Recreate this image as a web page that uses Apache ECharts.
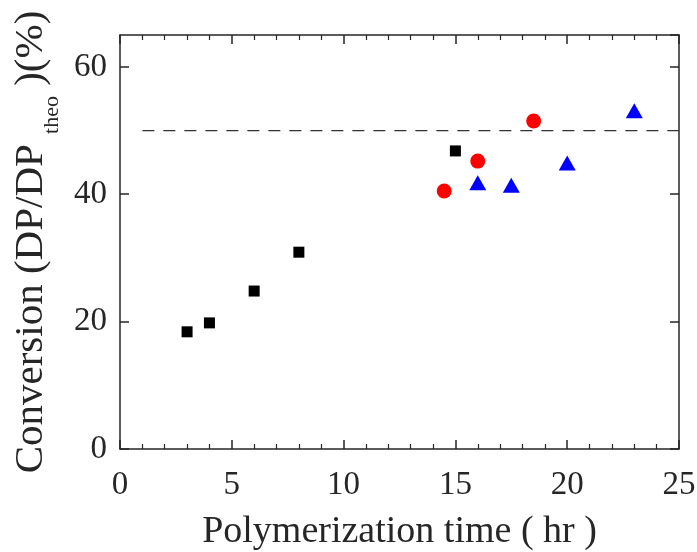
<!DOCTYPE html>
<html style="height: 100%">
<head>
	<meta charset="utf-8">
</head>
<body style="height: 100%; margin: 0; background: #fff">
<div id="container" style="width: 697px; height: 552px"></div>
<script type="text/javascript" src="https://cdn.jsdelivr.net/npm/echarts@6/dist/echarts.min.js"></script>
<script type="text/javascript">
    // data (time in hr, conversion in %)
    var squareTime = [3, 4, 6, 8, 15];
    var squareConv = [18.4, 19.8, 24.8, 30.9, 46.8];
    var circleTime = [14.5, 16, 18.5];
    var circleConv = [40.5, 45.2, 51.5];
    var triangleTime = [16, 17.5, 20, 23];
    var triangleConv = [41.8, 41.4, 44.9, 53.1];
    var refLineTime = [1, 25];
    var refLineConv = [50, 50];

    function pairs(xs, ys) {
        var out = [];
        for (var i = 0; i < xs.length; i++) {
            out.push([xs[i], ys[i]]);
        }
        return out;
    }

    var font = 'Liberation Serif';
    var axisColor = '#262626';

    var dom = document.getElementById("container");
    var myChart = echarts.init(dom);
    var option = {
        backgroundColor: '#fff',
        animation: false,
        grid: {left: 120, right: 18, top: 35, bottom: 103, outerBoundsMode: 'none', containLabel: false},
        xAxis: [
            {
                type: 'value', min: 0, max: 25, interval: 5,
                name: 'Polymerization time ( hr )',
                nameLocation: 'middle', nameGap: 64,
                nameTextStyle: {fontFamily: font, fontSize: 38, color: axisColor},
                axisLine: {onZero: false, lineStyle: {color: axisColor, width: 1.5}},
                axisTick: {inside: true, length: 9, lineStyle: {color: axisColor, width: 1.5}},
                minorTick: {show: true, splitNumber: 5, length: 5, lineStyle: {color: axisColor, width: 1.2}},
                axisLabel: {fontFamily: font, fontSize: 33, color: axisColor, margin: 20},
                splitLine: {show: false}
            },
            {
                type: 'value', min: 0, max: 25, interval: 5, position: 'top',
                axisLine: {onZero: false, lineStyle: {color: axisColor, width: 1.5}},
                axisTick: {inside: true, length: 9, lineStyle: {color: axisColor, width: 1.5}},
                minorTick: {show: true, splitNumber: 5, length: 5, lineStyle: {color: axisColor, width: 1.2}},
                axisLabel: {show: false},
                splitLine: {show: false}
            }
        ],
        yAxis: [
            {
                type: 'value', min: 0, max: 65, interval: 20,
                name: '{m|Conversion (DP/DP }{s|theo}{m| )(%)}',
                nameLocation: 'middle', nameGap: 57,
                nameTextStyle: {
                    fontFamily: font, color: axisColor,
                    rich: {
                        m: {fontFamily: font, fontSize: 41, color: axisColor},
                        s: {fontFamily: font, fontSize: 22, color: axisColor, padding: [42, 0, 0, 0]}
                    }
                },
                axisLine: {onZero: false, lineStyle: {color: axisColor, width: 1.5}},
                axisTick: {inside: true, length: 9, lineStyle: {color: axisColor, width: 1.5}},
                axisLabel: {fontFamily: font, fontSize: 33, color: axisColor, margin: 13, showMaxLabel: false},
                splitLine: {show: false}
            },
            {
                type: 'value', min: 0, max: 65, interval: 20, position: 'right',
                axisLine: {onZero: false, lineStyle: {color: axisColor, width: 1.5}},
                axisTick: {inside: true, length: 9, lineStyle: {color: axisColor, width: 1.5}},
                axisLabel: {show: false},
                splitLine: {show: false}
            }
        ],
        series: [
            {
                type: 'line',
                data: pairs(refLineTime, refLineConv),
                symbol: 'none',
                lineStyle: {color: '#333', width: 1.3, type: [12, 9]},
                z: 1
            },
            {
                type: 'scatter',
                data: pairs(squareTime, squareConv),
                symbol: 'rect', symbolSize: 11,
                itemStyle: {color: '#000', opacity: 1}
            },
            {
                type: 'scatter',
                data: pairs(circleTime, circleConv),
                symbol: 'circle', symbolSize: 15,
                itemStyle: {color: '#ff0000', opacity: 1}
            },
            {
                type: 'scatter',
                data: pairs(triangleTime, triangleConv),
                symbol: 'triangle', symbolSize: [17, 15],
                itemStyle: {color: '#0000ff', opacity: 1}
            }
        ]
    };

    if (option && typeof option === "object") {
        myChart.setOption(option, true);
    }
</script>
</body>
</html>
